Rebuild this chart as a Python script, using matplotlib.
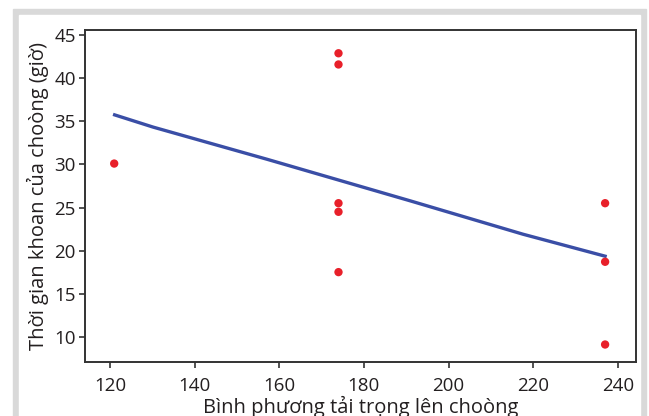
import matplotlib.pyplot as plt
from matplotlib.patches import Rectangle

plt.rcParams['font.family'] = ['Open Sans', 'DejaVu Sans']

# observed points
load_sq = [121, 174, 174, 174, 174, 174, 237, 237, 237]
drill_time = [30.1, 42.9, 41.6, 25.5, 24.5, 17.5, 25.5, 18.7, 9.1]

# fitted line
fit_x = [121.1, 130.2, 157.1, 190.9, 217.6, 237]
fit_y = [35.75, 34.33, 30.6, 25.78, 21.9, 19.35]

xticks = [120, 140, 160, 180, 200, 220, 240]
yticks = [10, 15, 20, 25, 30, 35, 40, 45]

fig = plt.figure(figsize=(6.49, 4.16), dpi=100)
fig.patch.set_facecolor('white')
W, H = 649, 416
# grey frame around the panel
fig.patches.append(Rectangle((13 / W, 0), (646 - 13) / W, (416 - 9) / H,
                             transform=fig.transFigure, color='#d9d9d9', zorder=-2))
fig.patches.append(Rectangle((19 / W, 0), (640 - 19) / W, (416 - 15) / H,
                             transform=fig.transFigure, color='white', zorder=-1))

ax = fig.add_axes([85 / W, (416 - 362) / H, (636 - 85) / W, (362 - 30) / H])
ax.plot(fit_x, fit_y, color='#3a4ea6', lw=2.4, zorder=2)
ax.scatter(load_sq, drill_time, s=36, color='#e8202a', edgecolors='none', zorder=3)

ax.set_xlim(114.1, 244.3)
ax.set_ylim(7.07, 45.6)
ax.set_xticks(xticks)
ax.set_yticks(yticks)
for s in ax.spines.values():
    s.set_color('#333333')
    s.set_linewidth(1.4)
ax.tick_params(direction='out', length=4.5, width=1.2, color='#333333',
               labelsize=13.5, labelcolor='#231f20')
ax.tick_params(axis='x', pad=6)
ax.tick_params(axis='y', pad=2)
ax.set_xlabel('Bình phương tải trọng lên choòng', fontsize=14.5, color='#231f20', labelpad=1)
ax.set_ylabel('Thời gian khoan của choòng (giờ)', fontsize=14.5, color='#231f20', labelpad=4)

fig.savefig('out.png', dpi=100)
